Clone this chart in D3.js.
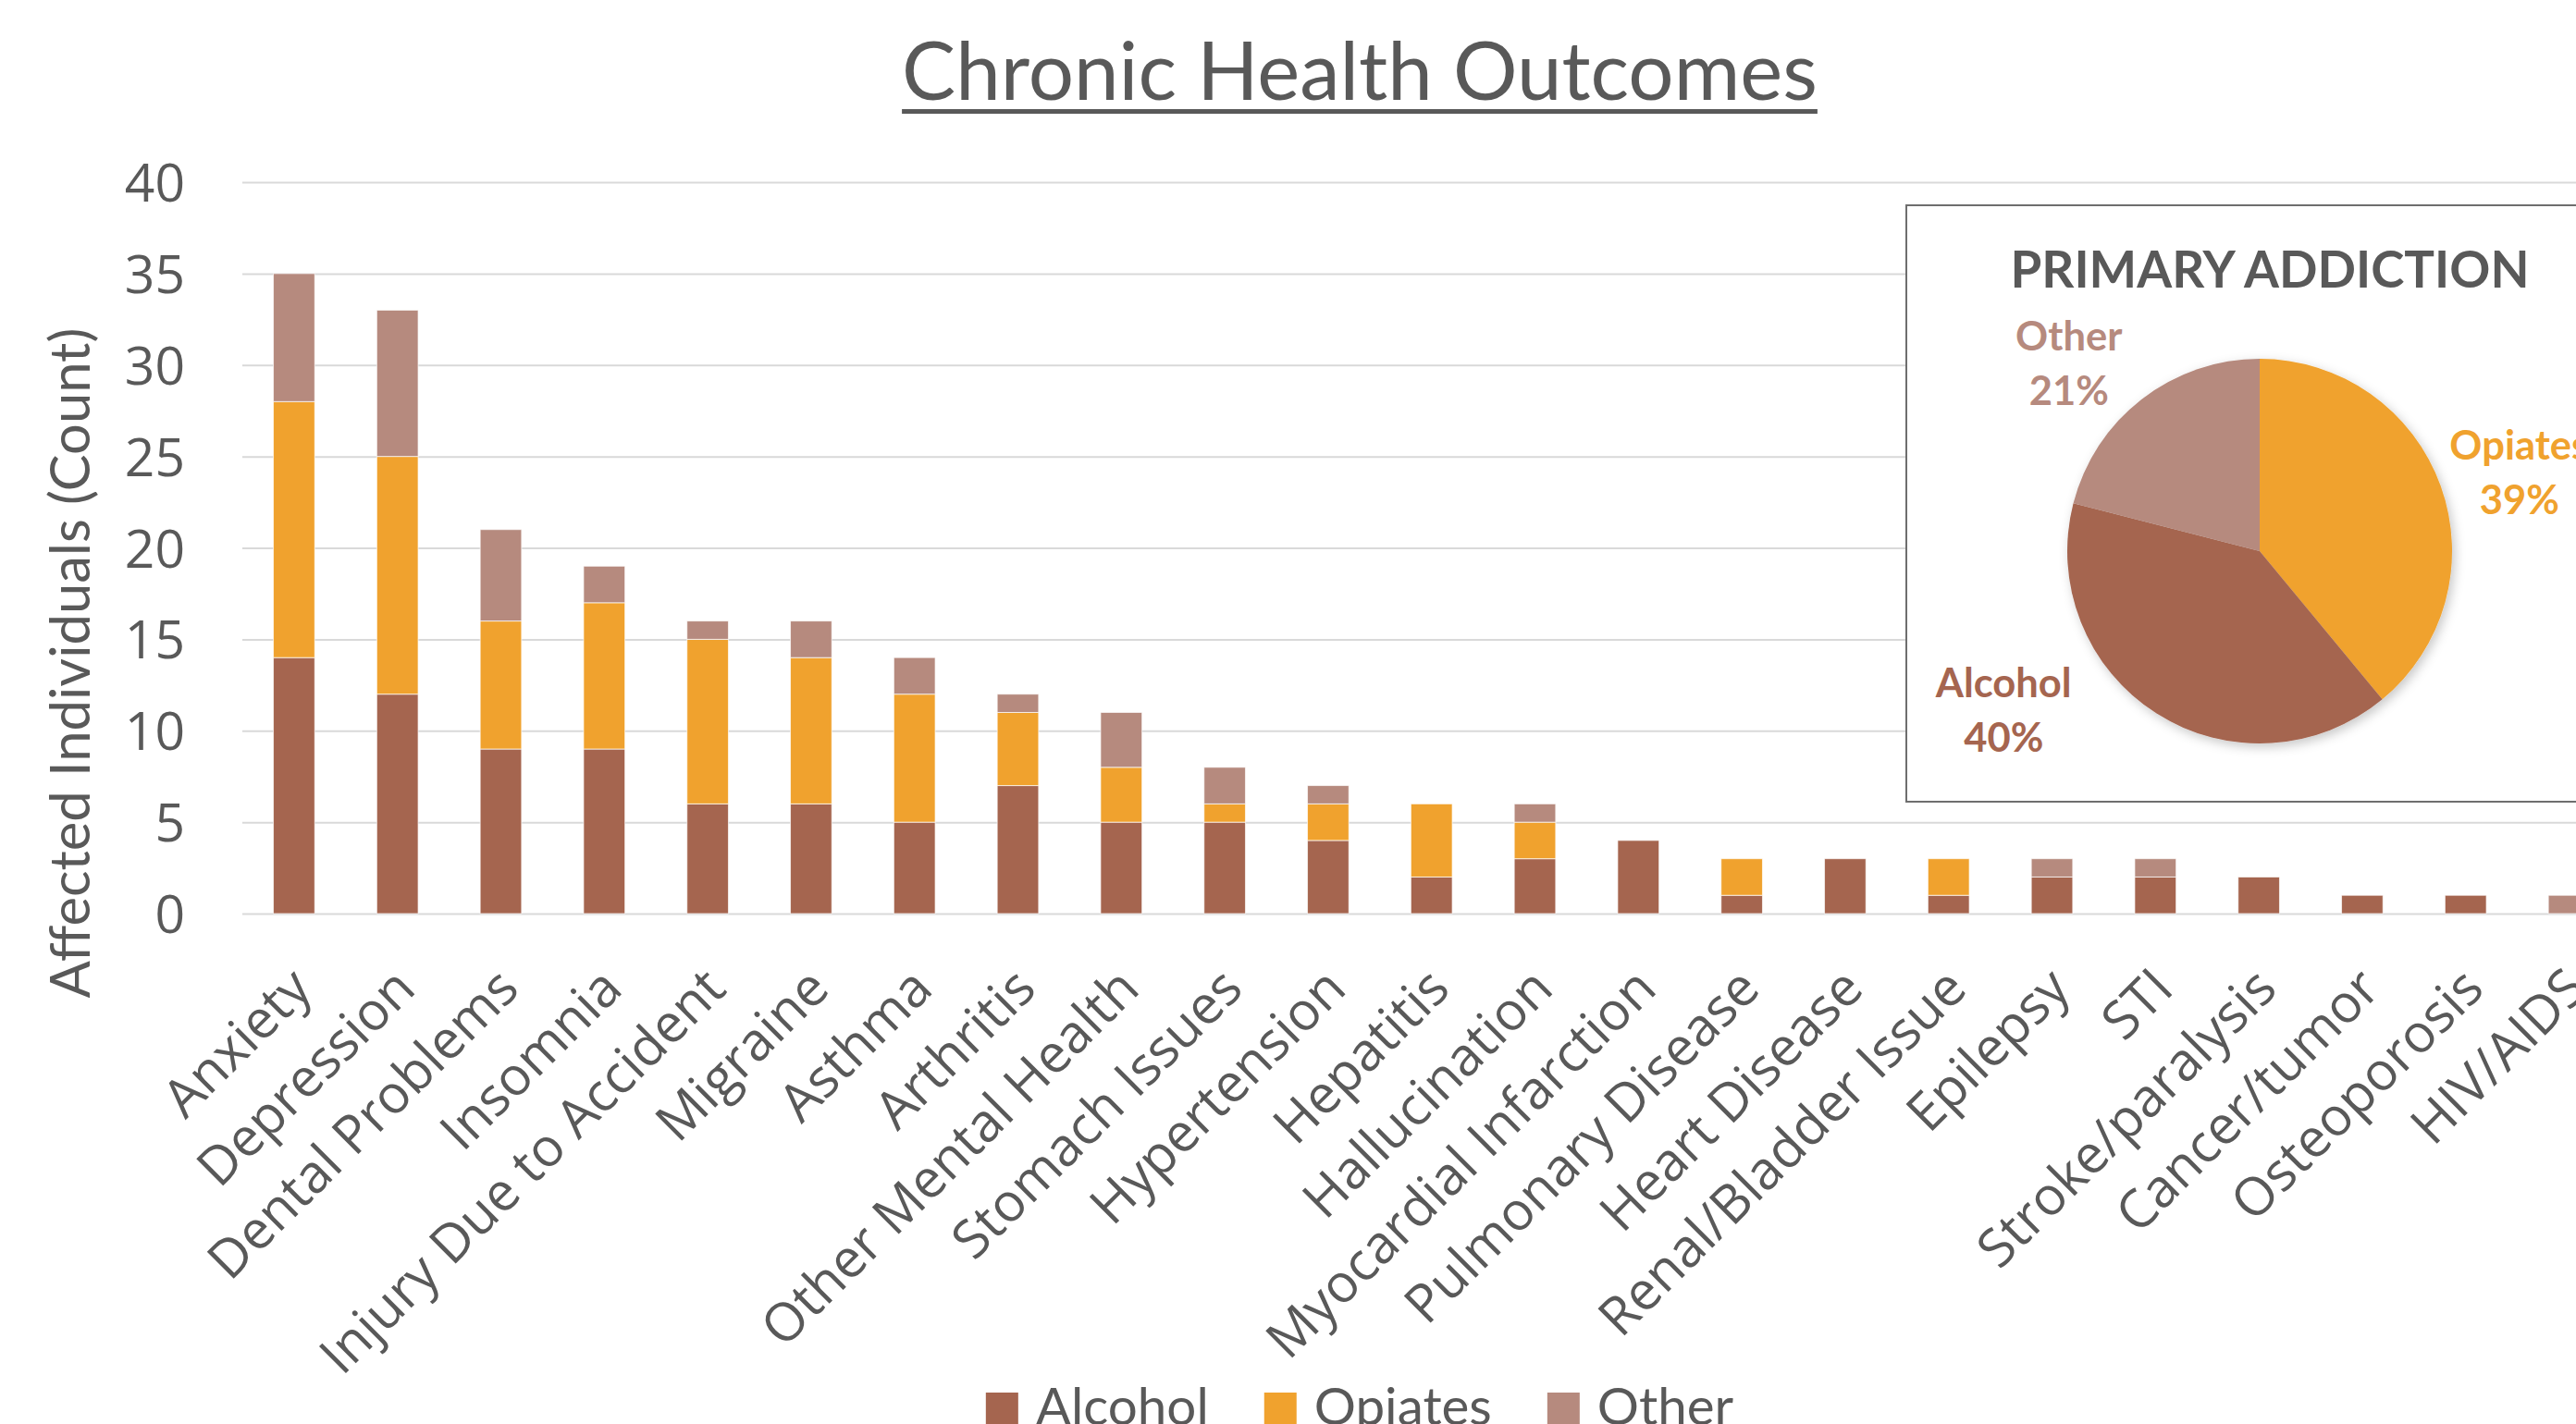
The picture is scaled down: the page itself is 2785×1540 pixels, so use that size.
<!DOCTYPE html>
<html>
<head>
<meta charset="utf-8">
<script src="https://cdn.jsdelivr.net/npm/d3@7"></script>
<style>
  html, body { margin: 0; padding: 0; background: #ffffff; overflow: hidden; }
  svg { display: block; }
</style>
</head>
<body>
<svg id="chart" width="2785" height="1540"></svg>
<script>
// ---- Data -------------------------------------------------------------
const categories = [
  "Anxiety", "Depression", "Dental Problems", "Insomnia", "Injury Due to Accident",
  "Migraine", "Asthma", "Arthritis", "Other Mental Health", "Stomach Issues",
  "Hypertension", "Hepatitis", "Hallucination", "Myocardial Infarction",
  "Pulmonary Disease", "Heart Disease", "Renal/Bladder Issue", "Epilepsy", "STI",
  "Stroke/paralysis", "Cancer/tumor", "Osteoporosis", "HIV/AIDS"
];
const alcohol = [14, 12, 9, 9, 6, 6, 5, 7, 5, 5, 4, 2, 3, 4, 1, 3, 1, 2, 2, 2, 1, 1, 0];
const opiates = [14, 13, 7, 8, 9, 8, 7, 4, 3, 1, 2, 4, 2, 0, 2, 0, 2, 0, 0, 0, 0, 0, 0];
const other   = [ 7,  8, 5, 2, 1, 2, 2, 1, 3, 2, 1, 0, 1, 0, 0, 0, 0, 1, 1, 0, 0, 0, 1];

const seriesNames  = ["Alcohol", "Opiates", "Other"];
const seriesColors = ["#A5654F", "#F0A22E", "#B68A7E"];
const yTicks = [0, 5, 10, 15, 20, 25, 30, 35, 40];

// Primary addiction shares (%), clockwise from 12 o'clock
const pieNames  = ["Opiates", "Alcohol", "Other"];
const pieShares = [39, 40, 21];
const pieColors = ["#F0A22E", "#A5654F", "#B68A7E"];

const chartTitle = "Chronic Health Outcomes";
const yTitle = "Affected Individuals (Count)";
const pieTitle = "PRIMARY ADDICTION";

// ---- Helpers ----------------------------------------------------------
const TEXT = "#595959";
const svg = d3.select("#chart");

// Scale a text element's font size so its rendered width equals `w`.
function fitWidth(sel, w) {
  const node = sel.node();
  const fs = parseFloat(sel.attr("font-size"));
  const cur = node.getComputedTextLength();
  const nfs = fs * w / cur;
  sel.attr("font-size", nfs);
  return nfs;
}

// ---- Title ------------------------------------------------------------
const titleCX = 1470;
const title = svg.append("text")
  .attr("x", titleCX).attr("y", 108)
  .attr("text-anchor", "middle")
  .attr("font-family", "Lato, 'Open Sans', sans-serif")
  .attr("font-weight", 400)
  .attr("font-size", 90)
  .attr("fill", TEXT)
  .text(chartTitle);
fitWidth(title, 990);
const tw = title.node().getComputedTextLength();
svg.append("rect")
  .attr("x", titleCX - tw / 2).attr("y", 118)
  .attr("width", tw).attr("height", 5)
  .attr("fill", TEXT);

// ---- Scales -----------------------------------------------------------
const plotLeft = 262, plotTop = 197, plotBottom = 988;
const step = 111.8;
const x = d3.scaleBand()
  .domain(categories)
  .range([plotLeft, plotLeft + step * categories.length])
  .paddingInner(0.6)
  .paddingOuter(0.3);
const y = d3.scaleLinear().domain([0, 40]).range([plotBottom, plotTop]);

// ---- Gridlines & y axis -----------------------------------------------
const yAxis = d3.axisLeft(y).tickValues(yTicks).tickSize(-(2785 - plotLeft)).tickPadding(62);
const gy = svg.append("g").attr("transform", `translate(${plotLeft},0)`).call(yAxis);
gy.select(".domain").remove();
gy.selectAll(".tick line").attr("stroke", "#D9D9D9").attr("stroke-width", 2);
gy.selectAll(".tick text")
  .attr("font-family", "'Open Sans', sans-serif")
  .attr("font-size", 57)
  .attr("fill", TEXT)
  .attr("dy", "0.36em");

svg.append("text")
  .attr("transform", `translate(97, ${717}) rotate(-90)`)
  .attr("text-anchor", "middle")
  .attr("font-family", "Lato, 'Open Sans', sans-serif")
  .attr("font-weight", 400)
  .attr("font-size", 56)
  .attr("fill", TEXT)
  .text(yTitle)
  .call(s => fitWidth(s, 725));

// ---- Stacked bars -----------------------------------------------------
const rows = categories.map((c, i) => ({
  category: c, Alcohol: alcohol[i], Opiates: opiates[i], Other: other[i]
}));
const stacked = d3.stack().keys(seriesNames)(rows);

svg.append("g").selectAll("g")
  .data(stacked)
  .join("g")
  .attr("fill", (d, i) => seriesColors[i])
  .selectAll("rect")
  .data(d => d.filter(v => v[1] - v[0] > 0))
  .join("rect")
  .attr("x", d => x(d.data.category))
  .attr("y", d => y(d[1]))
  .attr("width", x.bandwidth())
  .attr("height", d => y(d[0]) - y(d[1]))
  .attr("stroke", "#ffffff")
  .attr("stroke-opacity", 0.7)
  .attr("stroke-width", 1);

// ---- Category labels (rotated) ----------------------------------------
const xAxis = d3.axisBottom(x).tickSize(0).tickPadding(0);
const gx = svg.append("g").attr("transform", `translate(0,${plotBottom})`).call(xAxis);
gx.select(".domain").remove();
const xLabels = gx.selectAll(".tick text")
  .attr("font-family", "'Open Sans', sans-serif")
  .attr("font-size", 50)
  .attr("fill", TEXT)
  .attr("text-anchor", "end")
  .attr("dy", null)
  .attr("y", null)
  .attr("transform", "translate(22,84) rotate(-45)");
// common size taken from the longest label's extent
const xFs = fitWidth(d3.select(xLabels.nodes()[4]), 590);
xLabels.attr("font-size", xFs);

// ---- Legend -----------------------------------------------------------
const legend = svg.append("g").attr("class", "legend");
const sw = 35, gapSwatch = 19, gapItem = 60, legBase = 1541;
const items = legend.selectAll("g").data(seriesNames).join("g");
items.append("rect")
  .attr("width", sw).attr("height", sw)
  .attr("y", 1506)
  .attr("fill", (d, i) => seriesColors[i]);
const legTexts = items.append("text")
  .attr("y", legBase)
  .attr("font-family", "Lato, 'Open Sans', sans-serif")
  .attr("font-size", 60)
  .attr("fill", TEXT)
  .text(d => d);
const legFs = fitWidth(d3.select(legTexts.nodes()[0]), 187);
legTexts.attr("font-size", legFs);
let widths = legTexts.nodes().map(n => n.getComputedTextLength());
let total = widths.reduce((a, w) => a + sw + gapSwatch + w, 0) + gapItem * (widths.length - 1);
let cx = titleCX - total / 2;
items.each(function (d, i) {
  d3.select(this).attr("transform", `translate(${cx},0)`);
  d3.select(this).select("text").attr("x", sw + gapSwatch);
  cx += sw + gapSwatch + widths[i] + gapItem;
});

// ---- Inset pie: primary addiction ------------------------------------
const inset = svg.append("g");
inset.append("rect")
  .attr("x", 2061).attr("y", 222)
  .attr("width", 800).attr("height", 645)
  .attr("fill", "#ffffff")
  .attr("stroke", "#6E6E6E")
  .attr("stroke-width", 2);

const pt = inset.append("text")
  .attr("x", 2454).attr("y", 311)
  .attr("text-anchor", "middle")
  .attr("font-family", "Lato, 'Open Sans', sans-serif")
  .attr("font-weight", 700)
  .attr("font-size", 56)
  .attr("fill", TEXT)
  .text(pieTitle);
fitWidth(pt, 561);

const defs = svg.append("defs");
const shadow = defs.append("filter").attr("id", "pieShadow")
  .attr("x", "-20%").attr("y", "-20%").attr("width", "140%").attr("height", "140%");
shadow.append("feDropShadow")
  .attr("dx", 3).attr("dy", 4).attr("stdDeviation", 6)
  .attr("flood-color", "#000").attr("flood-opacity", 0.22);

const pieCX = 2443, pieCY = 596, pieR = 208;
const pie = d3.pie().sort(null).value(d => d.v);
const arcs = pie(pieNames.map((n, i) => ({ name: n, v: pieShares[i], color: pieColors[i] })));
const arc = d3.arc().innerRadius(0).outerRadius(pieR);

const pg = inset.append("g").attr("transform", `translate(${pieCX},${pieCY})`);
pg.append("g").attr("filter", "url(#pieShadow)")
  .selectAll("path").data(arcs).join("path")
  .attr("d", arc)
  .attr("fill", d => d.data.color);

// Data labels: outside each slice, offset from its mid-angle (best-fit style)
const labelDist = { Opiates: 1.41, Alcohol: 1.566, Other: 1.392 };
const labelTurn = { Opiates: 0.052, Alcohol: 0.45, Other: -0.133 };
const lab = pg.selectAll("g.lab").data(arcs).join("g").attr("class", "lab")
  .attr("transform", d => {
    const a = (d.startAngle + d.endAngle) / 2 + labelTurn[d.data.name];
    const r = pieR * labelDist[d.data.name];
    return `translate(${Math.sin(a) * r},${-Math.cos(a) * r})`;
  });
const labFont = "Lato, 'Open Sans', sans-serif";
const n1 = lab.append("text")
  .attr("text-anchor", "middle").attr("y", -14)
  .attr("font-family", labFont).attr("font-weight", 700).attr("font-size", 44)
  .attr("fill", d => d.data.color)
  .text(d => d.data.name);
const labFs = fitWidth(d3.select(n1.nodes()[1]), 147);
n1.attr("font-size", labFs);
lab.append("text")
  .attr("text-anchor", "middle").attr("y", 45)
  .attr("font-family", labFont).attr("font-weight", 700).attr("font-size", labFs)
  .attr("fill", d => d.data.color)
  .text(d => d.data.v + "%");
</script>
</body>
</html>
